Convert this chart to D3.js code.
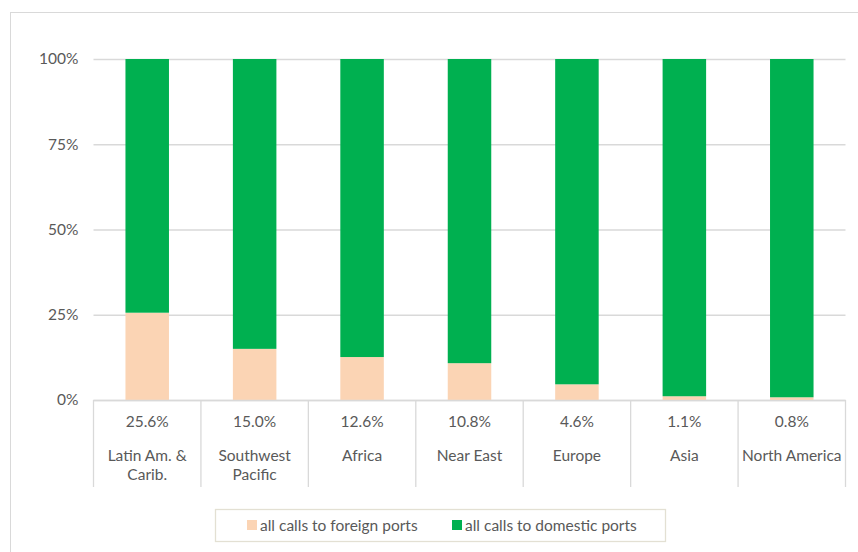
<!DOCTYPE html>
<html>
<head>
<meta charset="utf-8">
<script src="https://cdn.jsdelivr.net/npm/d3@7"></script>
<style>
  html, body { margin: 0; padding: 0; background: #fff; }
  svg text { font-family: Lato, "Open Sans", sans-serif; fill: #595959; }
</style>
</head>
<body>
<svg id="chart" width="858" height="552"></svg>
<script>
// Regions and share of calls made to foreign ports (%)
const regions = [["Latin Am. &", "Carib."], ["Southwest", "Pacific"], ["Africa"], ["Near East"], ["Europe"], ["Asia"], ["North America"]];
const foreignShare = [25.6, 15.0, 12.6, 10.8, 4.6, 1.1, 0.8];
const domesticShare = foreignShare.map(v => 100 - v);
const yTicks = [0, 25, 50, 75, 100];
const seriesNames = ["all calls to foreign ports", "all calls to domestic ports"];
const seriesColors = ["#fbd4b4", "#00b050"];

const fontSize = "15.5px";
const svg = d3.select("#chart");

// Outer chart frame
svg.append("rect")
  .attr("x", 10.5).attr("y", 12.5)
  .attr("width", 860).attr("height", 560)
  .attr("fill", "none").attr("stroke", "#d9d9d9");

const plot = { left: 93.5, right: 845.5, top: 59, bottom: 400 };

const x = d3.scaleBand()
  .domain(d3.range(regions.length))
  .range([plot.left, plot.right])
  .paddingInner(0.595).paddingOuter(0.2975);

const step = (plot.right - plot.left) / regions.length;

const y = d3.scaleLinear().domain([0, 100]).range([plot.bottom, plot.top]);

// Gridlines and y-axis labels
const yAxis = d3.axisLeft(y)
  .tickValues(yTicks)
  .tickSize(-(plot.right - plot.left))
  .tickPadding(15)
  .tickFormat(d => d + "%");

const gy = svg.append("g")
  .attr("transform", `translate(${plot.left},0)`)
  .call(yAxis);
gy.select(".domain").remove();
gy.selectAll(".tick line").attr("stroke", "#d9d9d9").attr("stroke-width", 1.3);
gy.selectAll(".tick text").style("font-size", fontSize).attr("fill", "#595959");

// Stacked bars
const stacked = d3.stack().keys([0, 1])(
  foreignShare.map((f, i) => ({ 0: f, 1: domesticShare[i] }))
);

svg.append("g").selectAll("g")
  .data(stacked)
  .join("g")
  .attr("fill", (d, i) => seriesColors[i])
  .selectAll("rect")
  .data(d => d)
  .join("rect")
  .attr("x", (d, i) => x(i))
  .attr("width", x.bandwidth())
  .attr("y", d => y(d[1]))
  .attr("height", d => y(d[0]) - y(d[1]));

// Data table under the axis: cell borders
const tableBottom = 487;
const tbl = svg.append("g");
tbl.append("line")
  .attr("x1", plot.left).attr("x2", plot.right)
  .attr("y1", plot.bottom + 0.5).attr("y2", plot.bottom + 0.5)
  .attr("stroke", "#d9d9d9").attr("stroke-width", 1.3);
tbl.selectAll("line.sep")
  .data(d3.range(regions.length + 1))
  .join("line")
  .attr("class", "sep")
  .attr("x1", i => plot.left + i * step).attr("x2", i => plot.left + i * step)
  .attr("y1", plot.bottom).attr("y2", tableBottom)
  .attr("stroke", "#d9d9d9").attr("stroke-width", 1.3);

// Value labels
tbl.selectAll("text.val")
  .data(foreignShare)
  .join("text")
  .attr("class", "val")
  .attr("x", (d, i) => x(i) + x.bandwidth() / 2)
  .attr("y", 427)
  .attr("text-anchor", "middle")
  .style("font-size", fontSize)
  .text(d => d.toFixed(1) + "%");

// Region labels
tbl.selectAll("text.cat")
  .data(regions)
  .join("text")
  .attr("class", "cat")
  .attr("x", (d, i) => x(i) + x.bandwidth() / 2)
  .attr("y", 461)
  .attr("text-anchor", "middle")
  .style("font-size", fontSize)
  .selectAll("tspan")
  .data(d => d)
  .join("tspan")
  .attr("x", function () { return this.parentNode.getAttribute("x"); })
  .attr("dy", (d, j) => j === 0 ? 0 : 19)
  .text(d => d);

// Legend
const legend = svg.append("g");
legend.append("rect")
  .attr("x", 215.5).attr("y", 509.5)
  .attr("width", 450).attr("height", 32)
  .attr("fill", "#fff").attr("stroke", "#e3e0d3").attr("stroke-width", 1.3);

const legendX = [247, 452];
seriesNames.forEach((name, i) => {
  legend.append("rect")
    .attr("x", legendX[i]).attr("y", 520)
    .attr("width", 10).attr("height", 10)
    .attr("fill", seriesColors[i]);
  legend.append("text")
    .attr("x", legendX[i] + 13).attr("y", 531)
    .style("font-size", fontSize)
    .text(name);
});
</script>
</body>
</html>
